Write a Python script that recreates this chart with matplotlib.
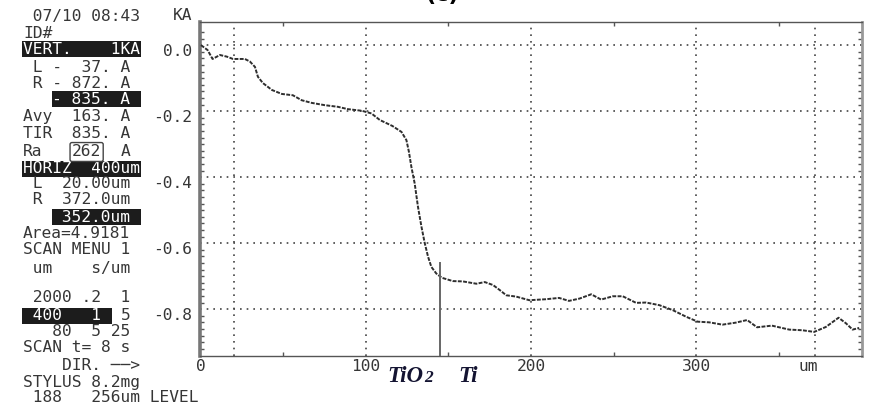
import numpy as np
import matplotlib
matplotlib.use("Agg")
import matplotlib.pyplot as plt
from matplotlib import transforms


# -------------------------------------------------
# DATA
# -------------------------------------------------
profile_x = [0, 4, 7, 11.5, 15.7, 19.4, 26.6, 29.7, 32.7, 34.5, 37.5, 43, 49,
             55.7, 61, 67, 75, 83, 89, 97.5, 103.3, 108.4, 116, 121.5, 124.5,
             126, 127.5, 129.5, 131.5, 133.6, 135.6, 137.6, 139.6, 142.6, 146,
             152.6, 158.7, 166.9, 172, 177, 181, 185, 191, 199, 209, 217, 223,
             229.4, 236.5, 242.5, 249.6, 255.6, 263.7, 269.8, 277.8, 285.9, 294,
             301, 308, 316, 324, 331, 337, 346, 356.5, 364.5, 371.6, 378.7,
             386.4, 390.9, 394.9, 398.9]
profile_y = [0.0, -0.015, -0.042, -0.03, -0.035, -0.042, -0.042, -0.05, -0.066,
             -0.096, -0.115, -0.136, -0.148, -0.152, -0.167, -0.175, -0.182,
             -0.187, -0.194, -0.199, -0.207, -0.227, -0.245, -0.263, -0.288,
             -0.323, -0.369, -0.419, -0.49, -0.55, -0.60, -0.641, -0.672, -0.692,
             -0.705, -0.715, -0.716, -0.723, -0.718, -0.727, -0.742, -0.758,
             -0.762, -0.773, -0.77, -0.766, -0.775, -0.768, -0.755, -0.771,
             -0.761, -0.761, -0.781, -0.78, -0.788, -0.803, -0.823, -0.838,
             -0.84, -0.847, -0.841, -0.833, -0.855, -0.85, -0.862, -0.864,
             -0.869, -0.854, -0.826, -0.843, -0.862, -0.857]

grid_x = [20, 100, 200, 300, 372]          # cursors L/R + major divisions
grid_y = [0.0, -0.2, -0.4, -0.6, -0.8]
xtick_vals = [0, 100, 200, 300, 368]
xtick_labels = ["0", "100", "200", "300", "um"]
ytick_labels = ["0.0", "-0.2", "-0.4", "-0.6", "-0.8"]

interface_x = 145                          # TiO2 / Ti boundary marker
interface_top = -0.66

# left info panel: (column, pixel row, text, inverted?)
panel_lines = [
    (0, 16, " 07/10 08:43", False),
    (0, 33, "ID#", False),
    (0, 49, "VERT.    1KA", True),
    (0, 68, " L -  37. A", False),
    (0, 83, " R - 872. A", False),
    (3, 99, "- 835. A ", True),
    (0, 117, "Avy  163. A", False),
    (0, 133, "TIR  835. A", False),
    (0, 152, "Ra", False),
    (10, 152, "A", False),
    (0, 169, "HORIZ  400um", True),
    (0, 183, " L  20.00um", False),
    (0, 199, " R  372.0um", False),
    (3, 217, " 352.0um ", True),
    (0, 233, "Area=4.9181", False),
    (0, 250, "SCAN MENU 1", False),
    (0, 268, " um    s/um", False),
    (0, 298, " 2000 .2  1", False),
    (0, 316, " 400   1 ", True),
    (10, 316, "5", False),
    (0, 332, "   80  5 25", False),
    (0, 347, "SCAN t= 8 s", False),
    (0, 365, "    DIR. ──>", False),
    (0, 382, "STYLUS 8.2mg", False),
    (0, 397, " 188   256um LEVEL", False),
]

W, H = 869, 407
MONO = "DejaVu Sans Mono"
INK = "#363636"


# -------------------------------------------------
# FIGURE
# -------------------------------------------------
fig = plt.figure(figsize=(W / 100, H / 100), dpi=100)
fig.patch.set_facecolor("white")

ax = fig.add_axes([200 / W, 1 - 356 / H, 662 / W, 334 / H])
ax.set_xlim(-0.6, 400.6)
ax.set_ylim(-0.942, 0.07)

# grid (dotted, printer style)
for gx in grid_x:
    ax.axvline(gx, color="#444", lw=1.2, ls=(0, (1, 3)), zorder=1)
for gy in grid_y:
    ax.axhline(gy, color="#444", lw=1.2, ls=(0, (1, 3)), zorder=1)

# profile trace
ax.plot(profile_x, profile_y, color="#2e2e2e", lw=1.4,
        ls=(0, (2, 0.7)), zorder=3)

# interface marker
ax.plot([interface_x, interface_x], [interface_top, ax.get_ylim()[0]],
        color="#666", lw=1.4, zorder=4)

# frame
ax.spines["left"].set_color("#777")
ax.spines["left"].set_linewidth(2.6)
ax.spines["right"].set_color("#999")
ax.spines["right"].set_linewidth(2.0)
for side in ["top", "bottom"]:
    ax.spines[side].set_color("#555")
    ax.spines[side].set_linewidth(1.0)
    ax.spines[side].set_linestyle((0, (1, 1)))

ax.set_xticks(xtick_vals, xtick_labels, family=MONO, fontsize=11.7, color=INK)
ax.set_xticks([50, 150, 250, 350], minor=True)
ax.set_yticks(grid_y, [])
ax.set_yticks(np.arange(-0.92, 0.06, 0.02), minor=True)
ax.tick_params(axis="x", which="major", length=0, pad=2)
ax.tick_params(axis="y", which="major", length=0)
ax.tick_params(which="minor", direction="in", length=3, width=1,
               color="#555", top=True, right=True)

# y labels sit a few pixels under their grid lines on the printout
ytrans = transforms.blended_transform_factory(fig.transFigure, ax.transData) + \
    transforms.ScaledTranslation(0, -0.06, fig.dpi_scale_trans)
for gy, lab in zip(grid_y, ytick_labels):
    ax.text(192 / W, gy, lab, transform=ytrans, ha="right", va="center",
            family=MONO, fontsize=11.7, color=INK, clip_on=False)

fig.text(192 / W, 1 - 16 / H, "KA", ha="right", va="center",
         family=MONO, fontsize=11.7, color=INK)


# -------------------------------------------------
# LEFT PANEL
# -------------------------------------------------
def put(col, row, s, inv):
    kw = dict(ha="left", va="center", family=MONO, fontsize=11.7, color=INK)
    if inv:
        kw["color"] = "white"
        kw["bbox"] = dict(boxstyle="square,pad=0.05", fc="#1c1c1c", ec="none")
    fig.text((23 + col * 9.8) / W, 1 - row / H, s, **kw)


for col, row, s, inv in panel_lines:
    put(col, row, s, inv)

# hand-marked Ra value
fig.text((23 + 5 * 9.8) / W, 1 - 152 / H, "262", ha="left", va="center",
         family=MONO, fontsize=11.7, color=INK,
         bbox=dict(boxstyle="round,pad=0.12", fc="none", ec="#444", lw=1))

# -------------------------------------------------
# ANNOTATIONS
# -------------------------------------------------
fig.text(442 / W, 1 - 1 / H, "(c)", ha="center", va="baseline",
         fontsize=16, fontweight="bold", color="black")

lab_kw = dict(family="Liberation Serif", style="italic", fontweight="bold",
              color="#141432", va="baseline")
fig.text(387 / W, 1 - 382 / H, "TiO", fontsize=16.5, **lab_kw)
fig.text(424 / W, 1 - 382 / H, "2", fontsize=12.5, **lab_kw)
fig.text(458 / W, 1 - 382 / H, "Ti", fontsize=16.5, **lab_kw)

fig.savefig("out.png", dpi=100, facecolor="white")
